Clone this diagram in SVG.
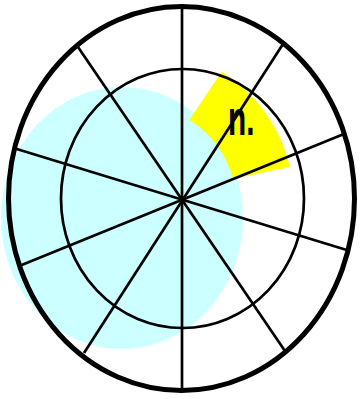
<svg xmlns="http://www.w3.org/2000/svg" width="360" height="399" viewBox="0 0 360 399">
<style>
.ln{stroke:#000;stroke-width:2.7;fill:none;stroke-linecap:butt}
.lbl{font-family:"Liberation Sans",Arial,sans-serif;font-weight:bold;font-size:48px;fill:#000}
</style>
<rect width="360" height="399" fill="#fff"/>
<g id="cyan-area"><ellipse cx="122" cy="218" rx="121" ry="131" fill="#ccffff"/></g>
<g id="yellow-sector"><path d="M189.3,120 L221.7,71.7 A154,154 0 0 1 290,166.7 L233,179 A96,96 0 0 0 189.3,120 Z" fill="#ffff00"/></g>
<g id="inner-ring"><ellipse class="ln" cx="182.5" cy="198.5" rx="121.5" ry="129.5"/></g>
<g id="connectors">
<line class="ln" x1="16.7" y1="149" x2="346.7" y2="250"/>
<line class="ln" x1="21.7" y1="265" x2="343.3" y2="134.3"/>
<line class="ln" x1="78" y1="47" x2="285" y2="351"/>
<line class="ln" x1="84" y1="353" x2="283" y2="44"/>
<line class="ln" x1="182" y1="7" x2="182" y2="390"/>
</g>
<g id="outer-ring"><ellipse cx="181.5" cy="198.5" rx="173" ry="192" fill="none" stroke="#000" stroke-width="5"/></g>
<g id="label"><text class="lbl" transform="translate(228,135) scale(0.62,1)">n.</text></g>
</svg>
